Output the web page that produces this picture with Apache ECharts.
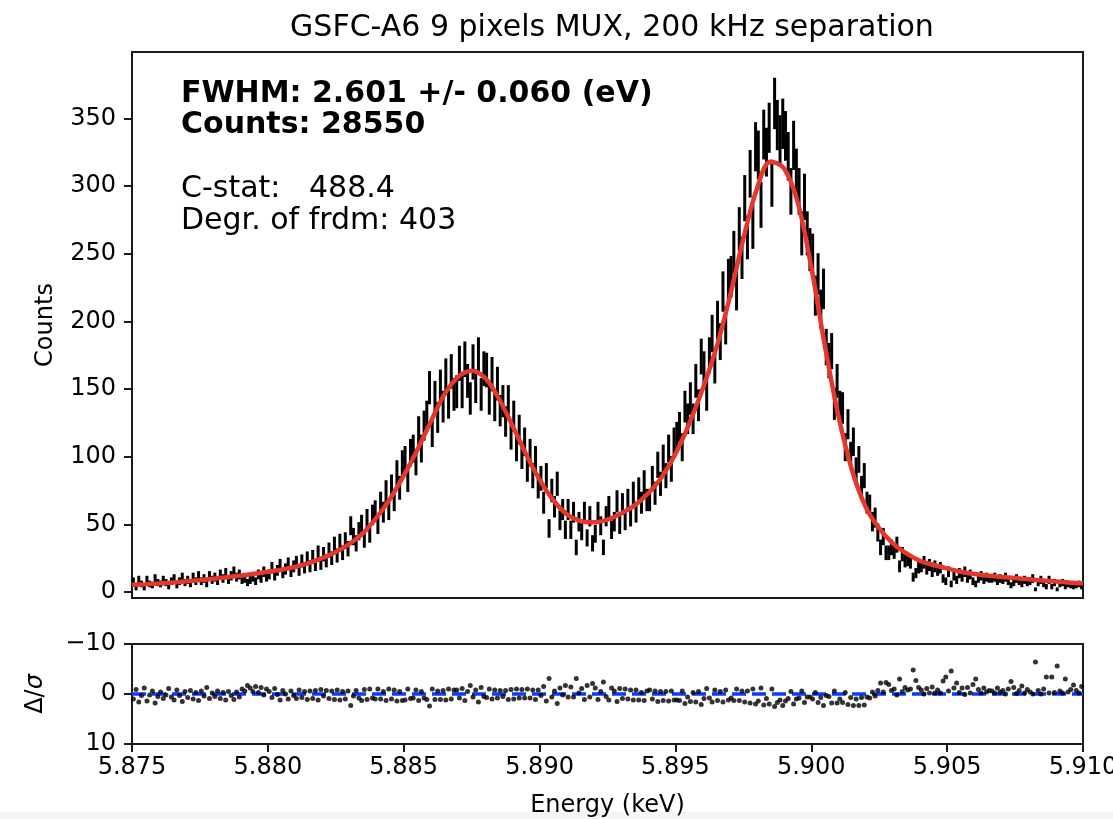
<!DOCTYPE html>
<html>
<head>
<meta charset="utf-8">
<script src="https://cdn.jsdelivr.net/npm/echarts@6/dist/echarts.min.js"></script>
<style>
html,body{margin:0;padding:0;background:#fff;}
#chart{width:1113px;height:819px;}
</style>
</head>
<body>
<div id="chart"></div>
<script>
// ---------- data ----------
const TITLE = 'GSFC-A6 9 pixels MUX, 200 kHz separation';
const BIN_LO = 5.875;      // keV, lower edge of first bin
const BIN_W = 0.0001;      // keV, bin width
const counts = [
8,3,9,6,3,9,6,5,10,7,
6,9,7,4,8,10,5,8,11,7,
9,6,11,8,12,8,10,6,12,9,
11,8,13,10,14,9,12,15,11,13,
9,10,7,9,11,8,13,10,15,11,
13,18,12,16,20,14,17,21,15,19,
22,16,23,18,25,19,26,20,29,21,
28,23,31,25,35,27,37,29,38,32,
49,41,36,45,50,39,54,43,57,60,
50,66,59,74,61,78,68,88,77,95,
98,83,103,106,96,119,106,123,130,151,
118,144,129,152,137,160,140,163,146,148,
169,148,172,156,143,170,152,175,146,165,
164,143,161,138,154,134,141,126,141,116,
130,107,120,101,111,91,103,86,98,78,
84,66,86,47,75,63,80,53,61,46,
61,46,59,33,52,45,59,40,56,36,
43,59,49,33,56,63,46,52,67,50,
65,53,68,56,73,59,76,66,81,68,
68,84,73,94,80,99,86,106,91,111,
115,122,107,137,128,143,128,156,138,174,
165,146,175,191,167,201,185,222,197,231,
233,251,223,268,247,291,262,309,270,329,
323,286,338,325,343,302,361,345,334,346,
337,322,296,330,310,296,265,292,265,253,
249,219,235,209,224,181,171,178,139,156,
137,136,107,124,101,111,90,98,77,86,
66,64,52,55,44,33,41,29,29,33,
30,35,19,28,23,24,22,11,14,18,
19,22,17,20,15,19,16,18,10,8,
15,6,12,9,14,11,15,10,13,8,
6,10,12,9,11,10,10,11,8,10,
9,11,8,5,7,10,8,6,9,7,
8,10,2,7,9,6,4,9,4,7,
2,6,7,4,6,5,4,5,6,4
];
const resid = [
1.0,-0.9,1.6,0.3,-1.2,1.4,0.2,-0.6,1.8,0.5,
-0.4,0.9,0.2,-1.1,0.6,1.2,-0.8,0.3,1.5,-0.5,
0.7,-0.7,1.0,-0.3,1.3,-0.6,0.4,-1.3,0.9,-0.2,
0.5,-0.6,0.9,-0.3,1.2,-0.5,0.3,1.1,-0.4,0.6,
-1.0,-0.6,-1.7,-1.2,-0.5,-1.5,-0.3,-1.3,0.2,-1.0,
-0.5,0.7,-1.1,0.1,1.2,-0.7,0.0,1.0,-0.6,0.3,
0.9,-0.8,0.7,-0.5,1.1,-0.6,0.9,-0.7,1.2,-0.9,
0.4,-0.7,0.9,-0.6,1.1,-0.8,1.2,-0.5,1.0,-0.6,
2.3,0.4,-0.7,0.8,1.3,-0.9,1.1,-1.0,0.8,1.0,
-1.0,1.0,-0.5,1.3,-1.0,1.0,-0.8,1.4,-0.5,1.3,
1.2,-1.0,0.9,0.8,-0.8,1.3,-0.5,0.8,1.1,2.4,
-1.0,1.1,-0.6,1.1,-0.7,1.2,-1.0,1.0,-0.8,-0.8,
0.8,-1.1,1.3,-0.5,-1.7,0.6,-0.8,1.6,-1.3,0.5,
0.7,-1.0,1.0,-0.8,0.8,-0.7,0.5,-0.7,1.1,-0.9,
1.0,-1.0,0.8,-0.9,0.8,-1.0,0.8,-0.8,1.1,-0.8,
0.3,-1.5,1.4,-3.1,0.6,-0.6,1.9,-1.2,0.2,-1.7,
0.6,-1.4,0.6,-3.1,-0.2,-1.1,1.1,-1.7,0.6,-2.1,
-1.2,1.1,-0.5,-2.4,0.5,1.2,-1.2,-0.6,1.5,-1.1,
0.9,-1.0,1.0,-0.8,1.2,-0.8,1.2,-0.3,1.3,-0.6,
-0.8,1.0,-0.6,1.5,-0.5,1.3,-0.5,1.4,-0.6,1.2,
1.2,1.3,-0.6,1.9,0.6,1.5,-0.3,1.6,-0.5,2.1,
0.9,-1.1,0.8,1.6,-0.8,1.3,-0.5,1.6,-0.8,1.2,
0.8,1.3,-1.0,1.3,-0.6,1.6,-0.6,1.8,-1.0,2.0,
1.4,-1.2,2.2,0.9,2.0,-1.0,2.5,1.7,1.2,2.3,
1.4,0.9,-0.5,2.0,1.0,0.8,-0.6,1.7,0.6,0.6,
1.0,-0.3,1.7,0.7,2.3,0.3,0.5,1.8,-0.6,1.8,
1.0,1.7,-0.3,2.1,0.7,2.3,1.0,2.3,0.7,2.2,
0.6,0.8,-0.4,0.4,-0.7,-2.2,-0.4,-2.3,-1.9,-0.7,
-1.0,0.2,-3.0,-0.5,-1.3,-0.8,-1.0,-4.8,-2.7,-1.3,
-0.8,0.0,-1.1,-0.2,-1.4,-0.2,-0.8,-0.2,-2.6,-3.4,
-0.6,-4.6,-1.2,-2.2,-0.3,-1.2,0.1,-1.3,-0.2,-1.9,
-3.0,-0.9,-0.2,-1.2,-0.4,-0.7,-0.6,-0.2,-1.2,-0.4,
-0.7,0.0,-1.0,-2.5,-1.3,-0.1,-0.7,-1.6,-0.2,-0.9,
-0.4,0.0,-6.4,-0.7,0.0,-1.0,-3.4,-0.2,-3.4,-0.3,
-5.6,-0.6,-0.2,-3.0,-0.4,-0.9,-1.8,-0.7,-0.2,-1.5
];
const MODEL_LO = 5.875;     // keV
const MODEL_STEP = 0.0005;  // keV
const model = [
5.3,5.8,6.4,7.1,7.9,8.8,9.8,11.0,12.2,13.5,
15.0,16.5,18.5,21.3,25.0,29.5,35.5,43.5,55,69,
86,105,126,146,159,163.5,158,143,123,102,
83,68,57.5,52.5,51.5,53.5,58,64,73,85,
102,124,150,180,218,261,298,318,313,288,
240,182,130,90,63,47,36,28.5,23,20,
17.5,15,13.3,12.2,11.2,10.3,9.4,8.6,7.8,7.0,
6.3
];
const energyTicks = [5.875,5.880,5.885,5.890,5.895,5.900,5.905,5.910];
const countTicks = [0,50,100,150,200,250,300,350];
const residTicks = [-10,0,10];
const annotBold = ['FWHM: 2.601 +/- 0.060 (eV)', 'Counts: 28550'];
const annotStats = ['C-stat:   488.4', 'Degr. of frdm: 403'];

// ---------- build ----------
const FONT = '"DejaVu Sans", sans-serif';
const binX = counts.map((c, i) => +(BIN_LO + (i + 0.5) * BIN_W).toFixed(6));
const errData = counts.map((c, i) => [binX[i], c - Math.sqrt(c), c + Math.sqrt(c)]);
const residData = resid.map((r, i) => [binX[i], r]);
const modelData = model.map((m, k) => [+(MODEL_LO + k * MODEL_STEP).toFixed(5), m]);
const zeroData = [[energyTicks[0], 0], [energyTicks[energyTicks.length - 1], 0]];

const axisCol = '#1a1a1a';
const tickLabel = {color: '#000', fontSize: 24, fontFamily: FONT};

const chart = echarts.init(document.getElementById('chart'), null, {renderer: 'canvas'});
chart.setOption({
  animation: false,
  backgroundColor: '#fff',
  title: {
    text: TITLE, left: 607, top: 8, textAlign: 'center',
    textStyle: {fontSize: 30, fontWeight: 'normal', color: '#000', fontFamily: FONT}
  },
  grid: [
    {left: 132, top: 52, width: 951, height: 546, show: true, borderColor: axisCol, borderWidth: 2,
     backgroundColor: 'transparent', outerBoundsMode: 'none', containLabel: false},
    {left: 132, top: 644, width: 951, height: 100, show: true, borderColor: axisCol, borderWidth: 2,
     backgroundColor: 'transparent', outerBoundsMode: 'none', containLabel: false}
  ],
  xAxis: [
    {type: 'value', gridIndex: 0, min: 5.875, max: 5.910, interval: 0.005,
     axisLine: {show: true, onZero: false, lineStyle: {color: axisCol, width: 2}},
     axisTick: {show: false}, axisLabel: {show: false}, splitLine: {show: false}},
    {type: 'value', gridIndex: 1, min: 5.875, max: 5.910, interval: 0.005,
     name: 'Energy (keV)', nameLocation: 'middle', nameGap: 50,
     nameTextStyle: {fontSize: 24, color: '#000', fontFamily: FONT},
     axisLine: {show: true, onZero: false, lineStyle: {color: axisCol, width: 2}},
     axisTick: {show: true, length: 8, lineStyle: {color: axisCol, width: 2}, customValues: energyTicks},
     axisLabel: Object.assign({margin: 12, customValues: energyTicks, formatter: v => Number(v).toFixed(3)}, tickLabel),
     splitLine: {show: false}}
  ],
  yAxis: [
    {type: 'value', gridIndex: 0, min: -4.4, max: 399,
     name: 'Counts', nameLocation: 'middle', nameGap: 74,
     nameTextStyle: {fontSize: 24, color: '#000', fontFamily: FONT},
     axisLine: {show: true, onZero: false, lineStyle: {color: axisCol, width: 2}},
     axisTick: {show: true, length: 8, lineStyle: {color: axisCol, width: 2}, customValues: countTicks},
     axisLabel: Object.assign({margin: 16, customValues: countTicks}, tickLabel),
     splitLine: {show: false}},
    {type: 'value', gridIndex: 1, min: -10, max: 10, interval: 10, inverse: true,
     name: '{a|Δ/}{b|σ}', nameLocation: 'middle', nameGap: 84,
     nameTextStyle: {fontSize: 24, color: '#000', fontFamily: FONT,
       rich: {a: {fontSize: 24, color: '#000', fontFamily: FONT},
              b: {fontSize: 24, color: '#000', fontFamily: FONT, fontStyle: 'italic'}}},
     axisLine: {show: true, onZero: false, lineStyle: {color: axisCol, width: 2}},
     axisTick: {show: true, length: 8, lineStyle: {color: axisCol, width: 2}, customValues: residTicks},
     axisLabel: Object.assign({margin: 16, customValues: residTicks, formatter: v => String(v).replace('-', '\u2212')}, tickLabel),
     splitLine: {show: false}}
  ],
  graphic: [
    {type: 'rect', left: 0, top: 812, shape: {width: 1113, height: 7}, style: {fill: '#f5f5f5'}, z: -10, silent: true},
    {type: 'text', x: 181, y: 94, style: {text: annotBold[0], font: 'bold 30px ' + FONT, fill: '#000', verticalAlign: 'middle'}},
    {type: 'text', x: 181, y: 125.5, style: {text: annotBold[1], font: 'bold 30px ' + FONT, fill: '#000', verticalAlign: 'middle'}},
    {type: 'text', x: 181, y: 189.5, style: {text: annotStats[0], font: '30px ' + FONT, fill: '#000', verticalAlign: 'middle'}},
    {type: 'text', x: 181, y: 221, style: {text: annotStats[1], font: '30px ' + FONT, fill: '#000', verticalAlign: 'middle'}}
  ],
  series: [
    {type: 'custom', name: 'data', xAxisIndex: 0, yAxisIndex: 0, clip: true,
     encode: {x: 0, y: [1, 2]},
     data: errData,
     renderItem: function (params, api) {
       const p1 = api.coord([api.value(0), api.value(1)]);
       const p2 = api.coord([api.value(0), api.value(2)]);
       return {type: 'line', shape: {x1: p1[0], y1: p1[1], x2: p2[0], y2: p2[1]},
               style: {stroke: '#000', lineWidth: 3}};
     }, z: 2},
    {type: 'line', name: 'fit', xAxisIndex: 0, yAxisIndex: 0, data: modelData,
     smooth: 0.35, showSymbol: false, clip: true,
     lineStyle: {color: '#e6372c', width: 4.5}, z: 3},
    {type: 'line', name: 'zero', xAxisIndex: 1, yAxisIndex: 1, data: zeroData,
     showSymbol: false, lineStyle: {color: '#0a3cff', width: 3.5, type: [14, 6]}, z: 2},
    {type: 'scatter', name: 'resid', xAxisIndex: 1, yAxisIndex: 1, data: residData,
     symbol: 'circle', symbolSize: 5, itemStyle: {color: '#000'}, clip: true, z: 3}
  ]
});
</script>
</body>
</html>
